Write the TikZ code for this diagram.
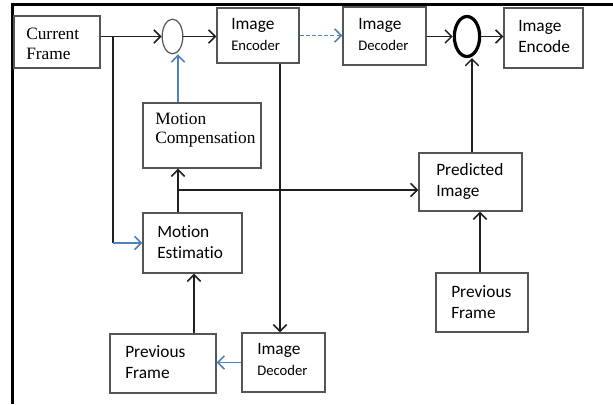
\documentclass[tikz,border=0pt]{standalone}
\usepackage{fontspec}
\setmainfont[Ligatures=NoCommon]{Liberation Serif}
\newfontfamily\boxsans[Ligatures=NoCommon]{Carlito}
\usetikzlibrary{arrows.meta,shapes.geometric,fit}

\definecolor{wireblue}{RGB}{79,129,189}
\definecolor{edgegray}{RGB}{85,85,85}

\tikzset{
  box/.style={draw=edgegray, line width=1.1pt, inner sep=0pt},
  serifnote/.style={anchor=north west, inner sep=0pt, align=left,
    font=\fontsize{13}{15}\selectfont},
  sansnote/.style={anchor=north west, inner sep=0pt, align=left,
    font=\boxsans\fontsize{13}{16.2}\selectfont},
  barb/.style={-{Straight Barb[length=5pt,width=10pt]}},
  wire/.style={draw=black!88, line width=1.1pt},
  arr/.style={wire, barb},
  bluewire/.style={draw=wireblue, line width=1.1pt},
  bluearr/.style={bluewire, barb},
  frameline/.style={draw=black, line width=1.6pt},
}

\begin{document}
\begin{tikzpicture}[x=0.75pt, y=-0.75pt]
\useasboundingbox (0,0) rectangle (613,404);

% outer frame (top and left edges)
\draw[frameline] (12.5,404) -- (12.5,4.5) -- (613,4.5);

% ---- boxes ----
\node[box, fit={(14,16) (100,68)}]   (cf)  {};
\node[box, fit={(217,8) (299,63)}]   (ie)  {};
\node[box, fit={(343,7) (426,65)}]   (id1) {};
\node[box, fit={(504,8) (583,68)}]   (iE)  {};
\node[box, fit={(143,103) (261,168)}] (mc) {};
\node[box, fit={(143,213) (242,273)}] (me) {};
\node[box, fit={(419,153) (522,211)}] (pi) {};
\node[box, fit={(436,273) (528,332)}] (pf2) {};
\node[box, fit={(110,334) (216,393)}] (pf1) {};
\node[box, fit={(242,333) (325,392)}] (id2) {};

% ---- summing junctions ----
\node[draw=edgegray, line width=0.9pt, ellipse, inner sep=0pt,
      minimum width=15.5pt, minimum height=26pt] (e1) at (172.5,36.5) {};
\node[draw=black, line width=2.4pt, ellipse, inner sep=0pt,
      minimum width=19pt, minimum height=30pt] (e2) at (467,36.5) {};

% ---- labels ----
\node[serifnote] (cf-t)  at (26,28)   {Current\\Frame};
\node[sansnote]  (ie-t)  at (231,18)  {Image\\{\fontsize{11}{16.2}\selectfont Encoder}};
\node[sansnote]  (id1-t) at (358,18)  {Image\\{\fontsize{11}{16.2}\selectfont Decoder}};
\node[sansnote]  (iE-t)  at (518,20)  {Image\\Encode};
\node[serifnote, font=\fontsize{13}{14.3}\selectfont] (mc-t) at (155,113) {Motion\\Compensation};
\node[sansnote]  (me-t)  at (157,225) {Motion\\Estimatio};
\node[sansnote, font=\boxsans\fontsize{13}{15.8}\selectfont] (pi-t) at (436,163) {Predicted\\Image};
\node[sansnote, font=\boxsans\fontsize{13}{15.8}\selectfont] (pf2-t) at (451,285) {Previous\\Frame};
\node[sansnote]  (pf1-t) at (125,345) {Previous\\Frame};
\node[sansnote]  (id2-t) at (257,343) {Image\\{\fontsize{11}{15}\selectfont Decoder}};

% ---- routing columns / rows ----
\coordinate (br)   at (113,36.5);
\coordinate (colA) at (178,0);
\coordinate (colC) at (280,0);
\coordinate (colD) at (194,0);
\coordinate (colE) at (472,0);
\coordinate (colF) at (480,0);
\coordinate (rowB) at (0,190);

% ---- connectors ----
\draw[arr] (cf.east |- e1.west) -- (e1.west);
\draw[wire] (br) -- (br |- me.west);
\draw[bluearr] (br |- me.west) -- (me.west);
\draw[arr] (e1.east) -- (e1.east -| ie.west);
\draw[bluearr] (mc.north -| colA) -- (colA |- e1.south);
\draw[arr] (me.north -| colA) -- (mc.south -| colA);
\draw[arr] (colA |- rowB) -- (pi.west |- rowB);
\draw[bluearr, dashed, dash pattern=on 3pt off 1.6pt] (ie.east) -- (ie.east -| id1.west);
\draw[arr] (id1.east |- e2.west) -- (e2.west);
\draw[arr] (e2.east) -- (e2.east -| iE.west);
\draw[arr] (pi.north -| colE) -- (colE |- e2.south);
\draw[arr] (pf2.north -| colF) -- (pi.south -| colF);
\draw[arr] (ie.south -| colC) -- (id2.north -| colC);
\draw[bluearr] (id2.west) -- (id2.west -| pf1.east);
\draw[arr] (pf1.north -| colD) -- (me.south -| colD);
\end{tikzpicture}
\end{document}
